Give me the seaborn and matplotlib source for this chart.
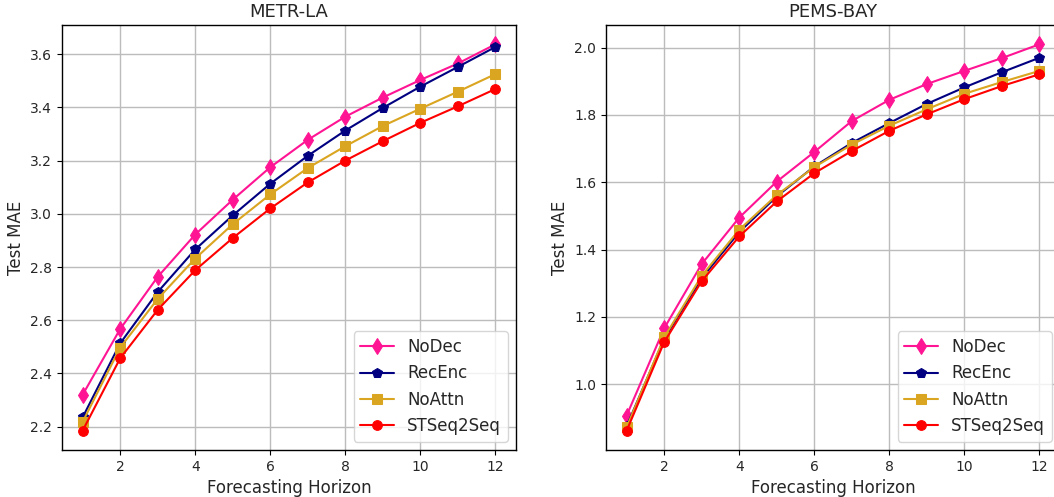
import matplotlib
matplotlib.use("Agg")
import matplotlib.pyplot as plt
import seaborn as sns
import numpy as np

horizon = np.arange(1, 13)
models = ['NoDec', 'RecEnc', 'NoAttn', 'STSeq2Seq']
colors = {'NoDec': '#ff1493', 'RecEnc': '#000080', 'NoAttn': '#daa520', 'STSeq2Seq': '#ff0000'}
markers = {'NoDec': 'd', 'RecEnc': 'p', 'NoAttn': 's', 'STSeq2Seq': 'o'}

# METR-LA test MAE per horizon
metr_nodec = [2.32, 2.567, 2.763, 2.922, 3.053, 3.175, 3.278, 3.365, 3.437, 3.503, 3.565, 3.637]
metr_recenc = [2.235, 2.513, 2.706, 2.866, 2.994, 3.113, 3.218, 3.313, 3.398, 3.478, 3.552, 3.627]
metr_noattn = [2.218, 2.497, 2.680, 2.832, 2.961, 3.073, 3.172, 3.254, 3.330, 3.395, 3.459, 3.525]
metr_stseq = [2.185, 2.457, 2.639, 2.788, 2.909, 3.020, 3.118, 3.200, 3.273, 3.342, 3.404, 3.469]

# PEMS-BAY test MAE per horizon
pems_nodec = [0.907, 1.166, 1.357, 1.495, 1.602, 1.690, 1.782, 1.845, 1.892, 1.931, 1.969, 2.010]
pems_recenc = [0.875, 1.135, 1.315, 1.452, 1.558, 1.647, 1.717, 1.776, 1.833, 1.882, 1.927, 1.970]
pems_noattn = [0.872, 1.139, 1.322, 1.459, 1.562, 1.645, 1.712, 1.768, 1.817, 1.863, 1.898, 1.931]
pems_stseq = [0.862, 1.125, 1.306, 1.439, 1.543, 1.627, 1.693, 1.753, 1.802, 1.847, 1.886, 1.921]

panels = [
    ('METR-LA', [metr_nodec, metr_recenc, metr_noattn, metr_stseq]),
    ('PEMS-BAY', [pems_nodec, pems_recenc, pems_noattn, pems_stseq]),
]

sns.set_style("whitegrid", {'axes.edgecolor': 'black', 'grid.color': '#bcbcbc',
                            'xtick.bottom': True, 'ytick.left': True})
plt.rcParams['font.family'] = ['DejaVu Sans']

fig = plt.figure(figsize=(10.54, 4.97), dpi=100)
positions = [[62/1054, 1-450/497, 454/1054, 425/497],
             [606/1054, 1-450/497, 454/1054, 425/497]]

for pos, (title, series) in zip(positions, panels):
    ax = fig.add_axes(pos)
    for name, vals in zip(models, series):
        sns.lineplot(x=horizon, y=vals, ax=ax, color=colors[name], marker=markers[name],
                     markersize=8 if name == 'NoDec' else 7, markeredgecolor=colors[name],
                     linewidth=1.5, label=name)
    ax.set_title(title, fontsize=13)
    ax.set_xlabel('Forecasting Horizon', fontsize=12)
    ax.set_ylabel('Test MAE', fontsize=12)
    ax.set_xticks([2, 4, 6, 8, 10, 12])
    ax.tick_params(labelsize=10, length=3.5, color='black')
    ax.grid(True, linewidth=1)
    for s in ax.spines.values():
        s.set_linewidth(1.0)
    ax.legend(loc='lower right', fontsize=12, frameon=True)

ax0 = fig.axes[0]
ax0.set_yticks([2.2, 2.4, 2.6, 2.8, 3.0, 3.2, 3.4, 3.6])
ax1 = fig.axes[1]
ax1.set_yticks([1.0, 1.2, 1.4, 1.6, 1.8, 2.0])

fig.savefig('out.png', dpi=100)
